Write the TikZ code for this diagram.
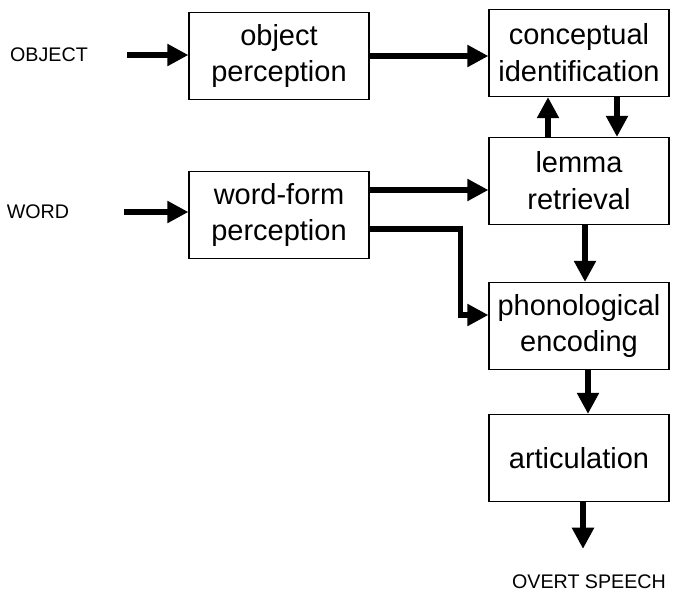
\documentclass[tikz,border=0pt]{standalone}
\usepackage{fontspec}
\setmainfont{Liberation Sans}
\usetikzlibrary{arrows.meta}

\begin{document}
\begin{tikzpicture}[
    stage/.style={draw,line width=0.7pt,minimum width=3.6cm,minimum height=1.74cm,
        align=center,font=\fontsize{16.5}{21}\selectfont},
    ext/.style={font=\fontsize{11.2}{13}\selectfont},
    flow/.style={line width=2.9pt,-{Triangle[length=12pt,width=12pt]}}]
        \useasboundingbox (0,0) rectangle (13.5,-11.88);

        \draw (5.58,-1.12) node[stage] (objper) {object\\perception};
        \draw (11.58,-1.06) node[stage] (concept) {conceptual\\identification};
        \draw (11.58,-3.62) node[stage] (lemma) {lemma\\retrieval};
        \draw (5.58,-4.30) node[stage] (wordper) {word-form\\perception};
        \draw (11.58,-6.52) node[stage] (phon) {phonological\\encoding};
        \draw (11.58,-9.16) node[stage] (artic) {articulation};

        \draw (0.98,-1.1) node[ext] (object) {OBJECT};
        \draw (0.76,-4.24) node[ext] (word) {WORD};
        \draw (11.78,-11.64) node[ext] (speech) {OVERT SPEECH};

        \draw[flow,shorten <=0.66cm] (object.east) -- (object.east -| objper.west);
        \draw[flow,shorten <=0.98cm] (word.east) -- (word.east -| wordper.west);
        \draw[flow] (objper.east) -- (objper.east -| concept.west);
        \draw[flow] ([xshift=-0.62cm]lemma.north) -- ([xshift=-0.62cm]concept.south);
        \draw[flow] ([xshift=0.76cm]concept.south) -- ([xshift=0.76cm]lemma.north);
        \draw[flow] ([yshift=0.5cm]wordper.east) -- ([yshift=0.5cm]wordper.east -| lemma.west);
        \draw[flow] ([yshift=-0.28cm]wordper.east) -- ++(1.82,0) |- ([yshift=0.22cm]phon.west);
        \draw[flow] ([xshift=0.12cm]lemma.south) -- ([xshift=0.12cm]lemma.south |- phon.north);
        \draw[flow] ([xshift=0.18cm]phon.south) -- ([xshift=0.18cm]phon.south |- artic.north);
        \draw[flow,shorten >=0.4cm] ([xshift=0.08cm]artic.south) -- ([xshift=0.08cm]artic.south |- speech.north);
    \end{tikzpicture}
\end{document}
